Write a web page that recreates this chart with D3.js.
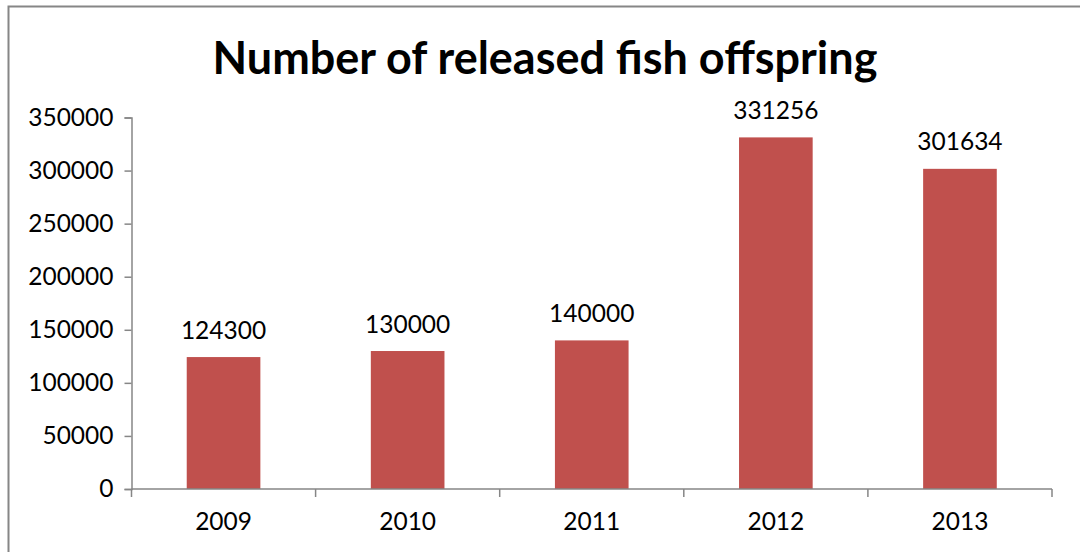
<!DOCTYPE html>
<html>
<head>
<meta charset="utf-8">
<script src="https://cdn.jsdelivr.net/npm/d3@7"></script>
<style>
  body { margin: 0; background: white; }
  text { font-family: Lato, "Open Sans", sans-serif; fill: #000; }
</style>
</head>
<body>
<svg width="1080" height="552"></svg>
<script>
const years = ['2009', '2010', '2011', '2012', '2013'];
const fish = [124300, 130000, 140000, 331256, 301634];
const yTicks = [0, 50000, 100000, 150000, 200000, 250000, 300000, 350000];
const title = 'Number of released fish offspring';

const svg = d3.select('svg');
const width = +svg.attr('width');
const height = +svg.attr('height');

const margin = { top: 117.5, right: 28, bottom: 63, left: 131.5 };
const fs = '24.5px';

// chart frame, runs off the right and bottom of the picture
svg.append('rect')
  .attr('x', 8.5).attr('y', 6.5)
  .attr('width', 1200).attr('height', 700)
  .attr('fill', 'none')
  .attr('stroke', '#868686')
  .attr('stroke-width', 2);

const data = years.map((y, i) => ({ year: y, value: fish[i] }));

const x = d3.scaleBand()
  .domain(years)
  .range([margin.left, width - margin.right])
  .paddingInner(0.6)
  .paddingOuter(0.3);

const y = d3.scaleLinear()
  .domain([0, 350000])
  .range([height - margin.bottom, margin.top]);

// bars
svg.append('g').selectAll('rect')
  .data(data)
  .join('rect')
  .attr('x', d => x(d.year))
  .attr('y', d => y(d.value))
  .attr('width', x.bandwidth())
  .attr('height', d => y(0) - y(d.value))
  .attr('fill', '#C0504D');

// value labels
svg.append('g').selectAll('text')
  .data(data)
  .join('text')
  .attr('x', d => x(d.year) + x.bandwidth() / 2)
  .attr('y', d => y(d.value) - 18.5)
  .attr('text-anchor', 'middle')
  .style('font-size', fs)
  .text(d => d.value);

// y axis
const yAxis = svg.append('g')
  .attr('transform', `translate(${margin.left},0)`)
  .call(d3.axisLeft(y).tickValues(yTicks).tickFormat(d3.format('d')).tickSize(7).tickPadding(11));

// x axis: ticks at band boundaries
const left = margin.left;
const right = width - margin.right;
const xAxis = svg.append('g').attr('transform', `translate(0,${y(0)})`);
xAxis.append('line')
  .attr('x1', left).attr('x2', right)
  .attr('stroke', '#868686').attr('stroke-width', 1.5);
xAxis.selectAll('.xt')
  .data(d3.range(years.length + 1))
  .join('line')
  .attr('class', 'xt')
  .attr('x1', i => left + i * (right - left) / years.length)
  .attr('x2', i => left + i * (right - left) / years.length)
  .attr('y1', 0).attr('y2', 8)
  .attr('stroke', '#868686').attr('stroke-width', 1.5);
xAxis.selectAll('.xl')
  .data(years)
  .join('text')
  .attr('class', 'xl')
  .attr('x', d => x(d) + x.bandwidth() / 2)
  .attr('y', 41)
  .attr('text-anchor', 'middle')
  .style('font-size', fs)
  .text(d => d);

yAxis.select('.domain').attr('stroke', '#868686').attr('stroke-width', 1.5);
yAxis.selectAll('.tick line').attr('stroke', '#868686').attr('stroke-width', 1.5);
yAxis.selectAll('.tick text')
  .style('font-size', fs)
  .style('font-family', 'Lato, sans-serif')
  .attr('fill', '#000');

// title
const t = svg.append('text')
  .attr('x', 545)
  .attr('y', 74)
  .attr('text-anchor', 'middle')
  .style('font-size', '38px')
  .style('font-weight', 'bold')
  .text(title);
const w = t.node().getComputedTextLength();
t.style('font-size', (38 * 665 / w) + 'px');
</script>
</body>
</html>
